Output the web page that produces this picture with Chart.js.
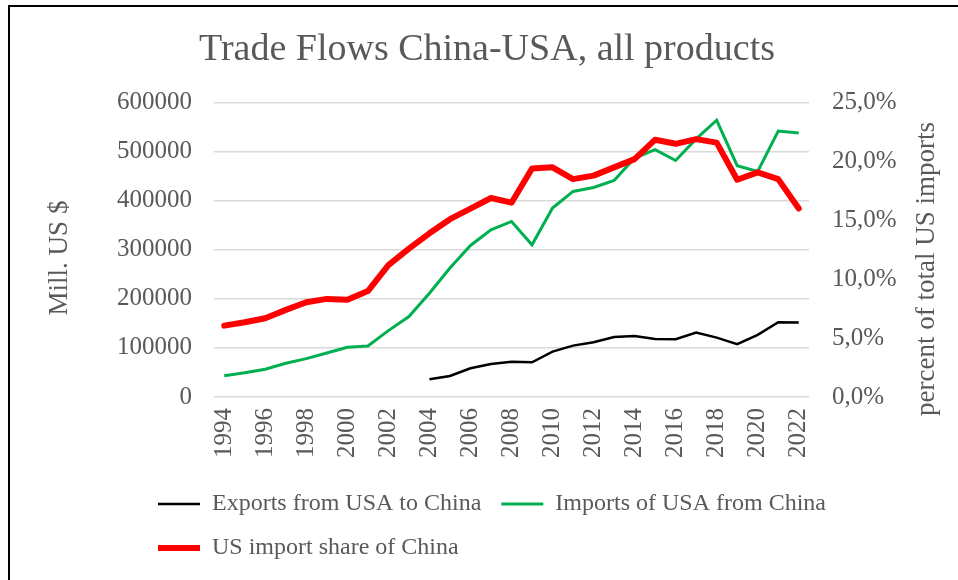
<!DOCTYPE html>
<html lang="en">
<head>
    <meta charset="UTF-8">
    <title>Trade Flows China-USA</title>
    <script src="https://cdn.jsdelivr.net/npm/chart.js"></script>
    <style>
        body { margin: 0; background: #fff; }
        #frame {
            position: absolute; left: 8px; top: 5px;
            width: 980px; height: 620px;
            border-left: 2px solid #000; border-top: 2px solid #000;
        }
        #tradeChart { position: absolute; left: 0; top: 0; }
    </style>
</head>
<body>
    <div id="frame"></div>
    <canvas id="tradeChart" width="958" height="580"></canvas>

    <script>
        const years = ['1994', '1995', '1996', '1997', '1998', '1999', '2000', '2001', '2002', '2003',
                       '2004', '2005', '2006', '2007', '2008', '2009', '2010', '2011', '2012', '2013',
                       '2014', '2015', '2016', '2017', '2018', '2019', '2020', '2021', '2022'];

        // Mill. US $
        const exportsToChina = [null, null, null, null, null, null, null, null, null, null,
                                36100, 42900, 58500, 67300, 72000, 70800, 92500, 104700, 111600, 122400,
                                124500, 118400, 117700, 131200, 121000, 107500, 126500, 152400, 151600];
        const importsFromChina = [43500, 49600, 56500, 68800, 78200, 89800, 101400, 104100, 135300, 163900,
                                  211600, 262700, 308800, 340800, 357800, 310200, 385100, 419000, 427100, 441400,
                                  487000, 504000, 482000, 526000, 564000, 471400, 459800, 542000, 538000];
        // percent of total US imports
        const importShare = [6.06, 6.35, 6.69, 7.4, 8.05, 8.33, 8.25, 9.0, 11.2, 12.6,
                             13.9, 15.1, 16.0, 16.9, 16.5, 19.4, 19.5, 18.5, 18.8, 19.5,
                             20.2, 21.85, 21.5, 21.9, 21.6, 18.45, 19.07, 18.5, 16.0];

        const FONT = "'Liberation Serif', serif";
        const GREY = '#595959';

        // both axis titles read bottom-to-top, and legend rows start under the left axis
        const extras = {
            id: 'extras',
            afterLayout(chart) {
                const lg = chart.legend;
                const w = lg.right - lg.left;
                lg.left = 138;
                lg.right = lg.left + w;
                chart.titleBlock.left += 16;   // title sits a bit right of centre
            },
            afterDraw(chart) {
                const ctx = chart.ctx;
                const axisTitle = (text, x, y) => {
                    ctx.save();
                    ctx.translate(x, y);
                    ctx.rotate(-Math.PI / 2);
                    ctx.font = '27px ' + FONT;
                    ctx.fillStyle = GREY;
                    ctx.textAlign = 'center';
                    ctx.textBaseline = 'middle';
                    ctx.fillText(text, 0, 0);
                    ctx.restore();
                };
                axisTitle('Mill. US $', 60, 258);
                axisTitle('percent of total US imports', 927, 269);
            }
        };

        new Chart(document.getElementById('tradeChart'), {
            type: 'line',
            data: {
                labels: years,
                datasets: [{
                    label: 'Exports from USA to China',
                    data: exportsToChina,
                    borderColor: '#000000',
                    backgroundColor: '#000000',
                    borderWidth: 2.5,
                    yAxisID: 'y',
                    order: 2
                }, {
                    label: 'Imports of USA from China',
                    data: importsFromChina,
                    borderColor: '#00b050',
                    backgroundColor: '#00b050',
                    borderWidth: 3,
                    yAxisID: 'y',
                    order: 1
                }, {
                    label: 'US import share of China',
                    data: importShare,
                    borderColor: '#ff0000',
                    backgroundColor: '#ff0000',
                    borderWidth: 6,
                    borderCapStyle: 'round',
                    borderJoinStyle: 'round',
                    yAxisID: 'y1',
                    order: 0
                }]
            },
            options: {
                responsive: false,
                animation: false,
                layout: { padding: { bottom: 10 } },
                elements: { point: { radius: 0 }, line: { tension: 0 } },
                plugins: {
                    title: {
                        display: true,
                        text: 'Trade Flows China-USA, all products',
                        color: GREY,
                        font: { family: FONT, size: 38, weight: 'normal' },
                        padding: { top: 27, bottom: 30 }
                    },
                    legend: {
                        position: 'bottom',
                        align: 'start',
                        labels: {
                            usePointStyle: true,
                            pointStyle: 'line',
                            pointStyleWidth: 42,
                            padding: 20,
                            color: GREY,
                            font: { family: FONT, size: 24 },
                            sort: (a, b) => a.datasetIndex - b.datasetIndex
                        }
                    },
                    tooltip: { enabled: false }
                },
                scales: {
                    x: {
                        offset: true,
                        grid: { display: false },
                        border: { display: false },
                        ticks: {
                            autoSkip: false,
                            minRotation: 90,
                            maxRotation: 90,
                            padding: 3,
                            color: GREY,
                            font: { family: FONT, size: 25 },
                            callback: function (val, idx) { return idx % 2 === 0 ? this.getLabelForValue(val) : ''; }
                        },
                        afterFit(scale) { scale.height = 75; }
                    },
                    y: {
                        position: 'left',
                        min: 0,
                        max: 600000,
                        border: { display: false },
                        grid: { color: '#d9d9d9', lineWidth: 1.5, drawTicks: false },
                        ticks: {
                            stepSize: 100000,
                            padding: 22,
                            color: GREY,
                            font: { family: FONT, size: 25 },
                            callback: v => String(v)
                        },
                        afterFit(scale) { scale.width = 214; }
                    },
                    y1: {
                        position: 'right',
                        min: 0,
                        max: 25,
                        border: { display: false },
                        grid: { drawOnChartArea: false, drawTicks: false },
                        ticks: {
                            stepSize: 5,
                            padding: 23,
                            color: GREY,
                            font: { family: FONT, size: 25 },
                            callback: v => v.toFixed(1).replace('.', ',') + '%'
                        },
                        afterFit(scale) { scale.width = 149; }
                    }
                }
            },
            plugins: [extras]
        });
    </script>
</body>
</html>
